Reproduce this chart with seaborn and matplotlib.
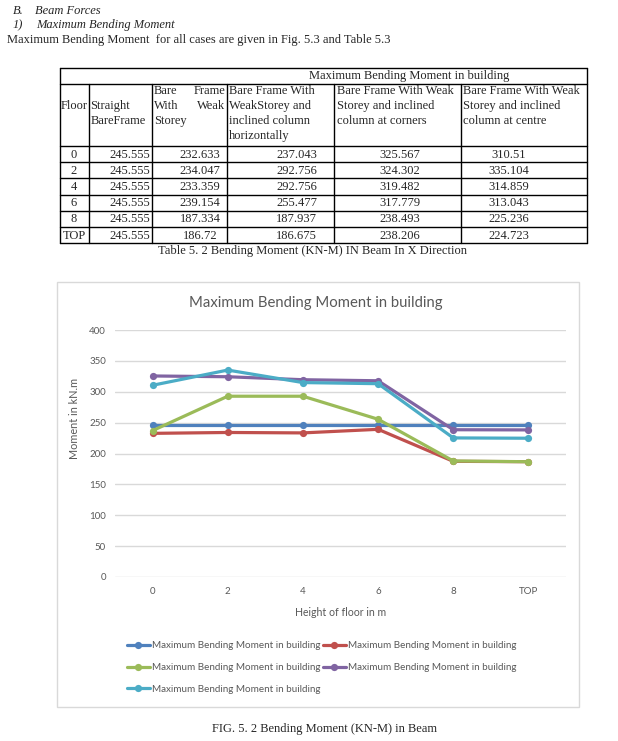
import matplotlib
matplotlib.use("Agg")
import matplotlib.pyplot as plt
import seaborn as sns
import pandas as pd
from matplotlib.lines import Line2D
from matplotlib.patches import Rectangle

# ---------------- data ----------------
floors = ["0", "2", "4", "6", "8", "TOP"]
straight_bare = [245.555, 245.555, 245.555, 245.555, 245.555, 245.555]
weak_storey = [232.633, 234.047, 233.359, 239.154, 187.334, 186.72]
inclined_horiz = [237.043, 292.756, 292.756, 255.477, 187.937, 186.675]
inclined_corners = [325.567, 324.302, 319.482, 317.779, 238.493, 238.206]
inclined_centre = [310.51, 335.104, 314.859, 313.043, 225.236, 224.723]

series_values = [straight_bare, weak_storey, inclined_horiz, inclined_corners, inclined_centre]
series_colors = ["#4F81BD", "#C0504D", "#9BBB59", "#8064A2", "#4BACC6"]
legend_label = "Maximum Bending Moment in building"
chart_title = "Maximum Bending Moment in building"
y_ticks = [0, 50, 100, 150, 200, 250, 300, 350, 400]

# ---------------- figure ----------------
W, H = 618, 741
sns.set_style("white")
plt.rcParams["font.family"] = ["Lato", "DejaVu Sans"]
fig = plt.figure(figsize=(W / 100, H / 100), dpi=100)
fig.patch.set_facecolor("white")


def P(x, y):
    return (x / W, 1 - y / H)


SERIF = ["Liberation Serif", "DejaVu Serif"]
TS = 9.0
TXT = "#595959"
GRID = "#D9D9D9"

# ---------------- page text ----------------
fig.text(*P(13, 11), "B.", fontsize=TS, family=SERIF, style="italic", va="center", ha="left")
fig.text(*P(35, 11), "Beam Forces", fontsize=TS, family=SERIF, style="italic", va="center", ha="left")
fig.text(*P(13, 25), "1)", fontsize=TS, family=SERIF, style="italic", va="center", ha="left")
fig.text(*P(36, 25), "Maximum Bending Moment", fontsize=TS, family=SERIF, style="italic", va="center", ha="left")
fig.text(*P(7, 40), "Maximum Bending Moment  for all cases are given in Fig. 5.3 and Table 5.3",
         fontsize=TS, family=SERIF, va="center", ha="left")

# ---------------- table ----------------
def hline(y, x0, x1):
    fig.add_artist(Line2D([x0 / W, x1 / W], [1 - y / H, 1 - y / H], color="black", lw=1.0,
                          transform=fig.transFigure))


def vline(x, y0, y1):
    fig.add_artist(Line2D([x / W, x / W], [1 - y0 / H, 1 - y1 / H], color="black", lw=1.0,
                          transform=fig.transFigure))


col_x = [60, 88.7, 152, 227, 334, 461, 586.5]
t_top, h1_bot, h2_bot, t_bot = 67.7, 83.7, 146, 243.3
n_rows = len(floors)
row_h = (t_bot - h2_bot) / n_rows

hline(t_top, col_x[0], col_x[-1])
hline(h1_bot, col_x[0], col_x[-1])
hline(h2_bot, col_x[0], col_x[-1])
for i in range(1, n_rows + 1):
    hline(h2_bot + i * row_h, col_x[0], col_x[-1])
vline(col_x[0], t_top, t_bot)
vline(col_x[-1], t_top, t_bot)
for cx in col_x[1:-1]:
    vline(cx, h1_bot, t_bot)

fig.text(*P(409, 75.5), "Maximum Bending Moment in building", fontsize=TS, family=SERIF,
         ha="center", va="center")

lines_y = [91, 106, 121, 136.5]


def ht(x, li, s, ha="left"):
    fig.text(*P(x, lines_y[li]), s, fontsize=TS, family=SERIF, ha=ha, va="center")


ht(61, 1, "Floor")
ht(90.5, 1, "Straight")
ht(90.5, 2, "BareFrame")
ht(154, 0, "Bare")
ht(225.5, 0, "Frame", ha="right")
ht(154, 1, "With")
ht(225.5, 1, "Weak", ha="right")
ht(154, 2, "Storey")
for li, s in enumerate(["Bare Frame With", "WeakStorey and", "inclined column", "horizontally"]):
    ht(229, li, s)
for li, s in enumerate(["Bare Frame With Weak", "Storey and inclined", "column at corners"]):
    ht(336.5, li, s)
for li, s in enumerate(["Bare Frame With Weak", "Storey and inclined", "column at centre"]):
    ht(463, li, s)

for i, fl in enumerate(floors):
    yc = h2_bot + (i + 0.5) * row_h + 0.5
    fig.text(*P(74, yc), fl, fontsize=TS, family=SERIF, ha="center", va="center")
    fig.text(*P(150.5, yc), str(straight_bare[i]), fontsize=TS, family=SERIF, ha="right", va="center")
    fig.text(*P(200, yc), str(weak_storey[i]), fontsize=TS, family=SERIF, ha="center", va="center")
    fig.text(*P(296.5, yc), str(inclined_horiz[i]), fontsize=TS, family=SERIF, ha="center", va="center")
    fig.text(*P(399.5, yc), str(inclined_corners[i]), fontsize=TS, family=SERIF, ha="center", va="center")
    fig.text(*P(509, yc), str(inclined_centre[i]), fontsize=TS, family=SERIF, ha="center", va="center")

fig.text(*P(313, 251), "Table 5. 2 Bending Moment (KN-M) IN Beam In X Direction", fontsize=TS,
         family=SERIF, ha="center", va="center")

# ---------------- chart ----------------
fig.add_artist(Rectangle(P(57.3, 707.3), (578.5 - 57.3) / W, (707.3 - 281.5) / H,
                         transform=fig.transFigure, fill=False, edgecolor=GRID, lw=1.0))

ax_l, ax_r, ax_t, ax_b = 115, 566, 330, 577
ax = fig.add_axes([ax_l / W, 1 - ax_b / H, (ax_r - ax_l) / W, (ax_b - ax_t) / H])
ax.set_facecolor("none")

for vals, col in zip(series_values, series_colors):
    sns.lineplot(x=floors, y=vals, ax=ax, color=col, marker="o", markersize=5.2,
                 markeredgewidth=0, linewidth=2.3, sort=False, legend=False)

ax.set_xlim(-0.5, len(floors) - 0.5)
ax.set_ylim(0, 400)
ax.set_yticks(y_ticks)
ax.set_yticklabels([str(t) for t in y_ticks])
ax.grid(axis="y", color=GRID, lw=1.0)
ax.grid(axis="x", visible=False)
ax.set_axisbelow(True)
for s in ax.spines.values():
    s.set_visible(False)
ax.tick_params(axis="both", length=0, labelsize=7, labelcolor=TXT)
ax.tick_params(axis="y", pad=6.5)
ax.tick_params(axis="x", pad=7.2)

ax.set_xlabel("Height of floor in m", fontsize=7.6, color=TXT)
ax.set_ylabel("Moment in kN.m", fontsize=7.8, color=TXT)
ax.xaxis.set_label_coords(0.5, -(606.5 - ax_b) / (ax_b - ax_t))
ax.yaxis.set_label_coords(-(115 - 80) / (ax_r - ax_l), (ax_b - 418) / (ax_b - ax_t))

fig.text(*P(316, 303), chart_title, fontsize=10.75, color=TXT, ha="center", va="center")

handles = list(ax.lines[:5])
order = [0, 2, 4, 1, 3]
fig.legend([handles[i] for i in order], [legend_label] * 5, ncol=2, loc="upper left",
           bbox_to_anchor=P(127, 641.5), frameon=False, borderpad=0, borderaxespad=0,
           handlelength=2.3, handletextpad=0.2, columnspacing=0.3, labelspacing=1.28,
           prop={"size": 7.1}, labelcolor=TXT)

fig.text(*P(324, 729), "FIG. 5. 2 Bending Moment (KN-M) in Beam", fontsize=TS, family=SERIF,
         ha="center", va="center")

fig.savefig("out.png", dpi=100, facecolor="white")
